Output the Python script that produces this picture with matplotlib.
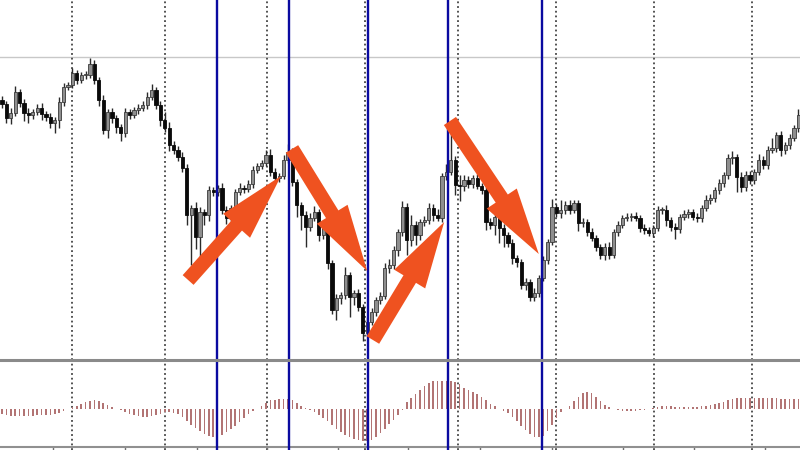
import numpy as np
import matplotlib.pyplot as plt
from matplotlib.patches import FancyArrowPatch
from matplotlib.lines import Line2D

# closing prices, one per bar (arbitrary price units)
closes = [
    296, 282, 287, 308, 297, 287, 285, 288, 292, 286,
    283, 277, 280, 298, 313, 315, 327, 320, 325, 325,
    336, 320, 300, 270, 288, 282, 273, 267, 288, 285,
    290, 292, 295, 303, 310, 295, 280, 272, 255, 250,
    243, 232, 185, 192, 163, 188, 185, 210, 208, 212,
    190, 182, 192, 208, 212, 211, 216, 230, 234, 237,
    245, 228, 222, 224, 240, 248, 218, 195, 185, 173,
    182, 188, 165, 172, 137, 90, 102, 105, 125, 103,
    107, 93, 67, 78, 88, 100, 104, 132, 135, 150,
    168, 193, 160, 175, 165, 178, 180, 192, 185, 182,
    224, 228, 240, 215, 214, 220, 216, 222, 214, 210,
    178, 175, 183, 172, 165, 157, 142, 138, 115, 118,
    103, 107, 122, 140, 158, 193, 187, 190, 195, 190,
    197, 177, 178, 168, 162, 153, 145, 153, 145, 168,
    175, 182, 183, 184, 182, 172, 170, 167, 172, 190,
    190, 180, 173, 171, 183, 186, 188, 183, 182, 192,
    200, 202, 210, 217, 225, 242, 243, 223, 213, 225,
    220, 228, 240, 235, 250, 252, 265, 250, 255, 262,
    272, 285,
]
first_open = 300

upper_wick = [
    4, 3, 5, 6, 3, 4, 5, 3, 4, 5,
    3, 4, 3, 5, 4, 3, 5, 3, 3, 4,
    6, 4, 3, 5, 3, 4, 3, 3, 4, 3,
    3, 4, 4, 5, 6, 3, 4, 8, 6, 4,
    4, 5, 4, 3, 6, 5, 3, 4, 3, 3,
    5, 4, 3, 3, 5, 3, 4, 4, 3, 3,
    5, 6, 4, 3, 5, 8, 4, 3, 3, 4,
    5, 6, 3, 4, 3, 3, 4, 3, 8, 3,
    3, 4, 3, 5, 4, 3, 4, 5, 6, 4,
    3, 6, 4, 10, 4, 3, 4, 5, 4, 6,
    3, 8, 35, 4, 10, 5, 4, 3, 4, 3,
    3, 4, 5, 3, 4, 3, 4, 3, 3, 4,
    3, 5, 3, 4, 3, 8, 3, 10, 4, 5,
    3, 3, 4, 3, 4, 3, 3, 4, 5, 3,
    4, 3, 4, 3, 4, 3, 4, 3, 3, 4,
    3, 5, 3, 4, 3, 4, 3, 3, 4, 3,
    5, 4, 3, 4, 3, 4, 6, 3, 5, 4,
    4, 3, 6, 4, 4, 10, 3, 4, 3, 4,
    3, 6,
]

lower_wick = [
    4, 5, 6, 3, 4, 8, 8, 4, 3, 6,
    4, 5, 10, 8, 4, 3, 3, 4, 3, 4,
    3, 4, 6, 4, 8, 5, 6, 8, 4, 4,
    3, 4, 3, 4, 3, 4, 6, 4, 6, 4,
    4, 4, 10, 50, 12, 25, 10, 6, 4, 4,
    4, 6, 10, 4, 3, 4, 3, 4, 3, 3,
    3, 4, 5, 4, 3, 3, 4, 12, 15, 20,
    4, 3, 6, 4, 6, 4, 10, 6, 4, 20,
    8, 4, 8, 3, 3, 4, 4, 3, 5, 4,
    6, 4, 15, 6, 10, 5, 4, 4, 6, 3,
    4, 4, 3, 10, 15, 5, 4, 4, 3, 4,
    8, 4, 10, 15, 12, 4, 6, 5, 4, 5,
    4, 4, 4, 3, 4, 3, 4, 5, 4, 4,
    3, 8, 4, 4, 3, 4, 4, 5, 4, 3,
    4, 3, 3, 4, 3, 4, 4, 3, 4, 3,
    4, 6, 4, 10, 4, 3, 4, 3, 4, 4,
    3, 4, 4, 4, 4, 4, 6, 15, 5, 4,
    4, 4, 3, 4, 4, 3, 4, 6, 4, 4,
    3, 4,
]

# oscillator histogram, one per bar
osc = [
    -5, -6, -7, -7, -7, -7, -7, -7, -6, -6,
    -6, -6, -5, -4, -2, 0, 2, 3, 5, 7,
    8, 9, 8, 6, 4, 2, 0, -1, -3, -5,
    -6, -7, -8, -8, -7, -6, -5, -3, -3, -4,
    -5, -8, -12, -16, -19, -22, -25, -27, -28, -27,
    -26, -23, -20, -17, -13, -9, -5, -2, 0, 3,
    6, 9, 9, 10, 10, 10, 9, 6, 3, 1,
    -1, -3, -6, -9, -12, -16, -20, -23, -26, -28,
    -30, -31, -32, -32, -31, -28, -24, -20, -15, -11,
    -6, -1, 7, 11, 15, 19, 23, 26, 28, 28,
    28, 28, 28, 27, 25, 21, 19, 17, 15, 12,
    9, 5, 3, 0, -2, -4, -8, -12, -17, -21,
    -25, -28, -28, -27, -22, -16, -9, -3, 0, 3,
    8, 12, 16, 17, 16, 12, 8, 4, 2, 0,
    -1, -2, -2, -2, -2, -1, -1, 0, 1, 2,
    3, 3, 3, 2, 2, 2, 2, 2, 2, 3,
    3, 4, 5, 6, 7, 9, 10, 11, 11, 11,
    11, 11, 11, 11, 11, 11, 11, 10, 10, 10,
    10, 10,
]

# day separators, signal lines, time ticks (bar positions)
separators = [15.9, 37.05, 60.2, 82.5, 103.6, 125.9, 148.2, 170.45]
signals = [48.9, 65.2, 83.2, 101.4, 122.7]
time_ticks = [11.6, 28.0, 44.3, 60.2, 76.4, 92.3, 108.6, 125.0, 141.1, 157.3, 173.4]
level_line = 343

# arrows: (bar, price) tail -> tip
arrows = [
    ((42.3, 120), (63.4, 224)),
    ((65.9, 251), (83.0, 129)),
    ((84.3, 60), (100.5, 178)),
    ((101.8, 279), (122.0, 146)),
]

closes = np.array(closes, dtype=float)
opens = np.concatenate([[first_open], closes[:-1]])
highs = np.maximum(opens, closes) + np.array(upper_wick)
lows = np.minimum(opens, closes) - np.array(lower_wick)
x = np.arange(len(closes))

fig = plt.figure(figsize=(8, 4.5), dpi=100)
ax = fig.add_axes([0, 90 / 450, 1, 360 / 450])
ax2 = fig.add_axes([0, 0, 1, 88 / 450])

xlim = (-2 / 4.4, 798 / 4.4)

# main price panel
ax.axhline(level_line, color='#c8c8c8', lw=1, zorder=1)
for s in separators:
    ax.axvline(s, color='#444444', ls=(0, (1, 1.6)), lw=1.3, zorder=1)
    ax2.axvline(s, color='#444444', ls=(0, (1, 1.6)), lw=1.3, zorder=1)

up = closes >= opens
body = np.where(np.abs(closes - opens) < 1, 1, closes - opens)
ax.vlines(x, lows, highs, color='#2a2a2a', lw=1, zorder=2)
ax.bar(x[up], body[up], bottom=opens[up], width=0.75,
       color='#8e8e8e', edgecolor='#3a3a3a', lw=0.6, zorder=3)
ax.bar(x[~up], body[~up], bottom=opens[~up], width=0.75,
       color='#0a0a0a', edgecolor='#0a0a0a', lw=0.6, zorder=3)

for s in signals:
    ax.axvline(s, color='#0a0aa0', lw=1.7, zorder=4)
    ax2.axvline(s, color='#0a0aa0', lw=1.7, zorder=4)

for tail, tip in arrows:
    arr = FancyArrowPatch(tail, tip, arrowstyle='simple,head_length=48,head_width=26,tail_width=10.5',
                          mutation_scale=1, shrinkA=0, shrinkB=0,
                          color='#ef5220', lw=0, zorder=6)
    ax.add_patch(arr)

ax.set_xlim(xlim)
ax.set_ylim(40, 400)
ax.axis('off')

# oscillator panel
ax2.bar(x, osc, width=0.4, color='#b27474', zorder=2)
ax2.set_xlim(xlim)
ax2.set_ylim(-41, 47)
for side in ['top', 'left', 'right']:
    ax2.spines[side].set_visible(False)
ax2.spines['bottom'].set_position(('data', -38))
ax2.spines['bottom'].set_color('#909090')
ax2.spines['bottom'].set_linewidth(1.5)
ax2.set_xticks(time_ticks)
ax2.set_xticklabels([])
ax2.tick_params(axis='x', direction='out', length=2.5, color='#707070', width=1)
ax2.set_yticks([])

# panel separator
fig.add_artist(Line2D([0, 1], [90 / 450, 90 / 450], color='#8a8a8a', lw=2.2,
                      transform=fig.transFigure))

fig.savefig('out.png', dpi=100)
